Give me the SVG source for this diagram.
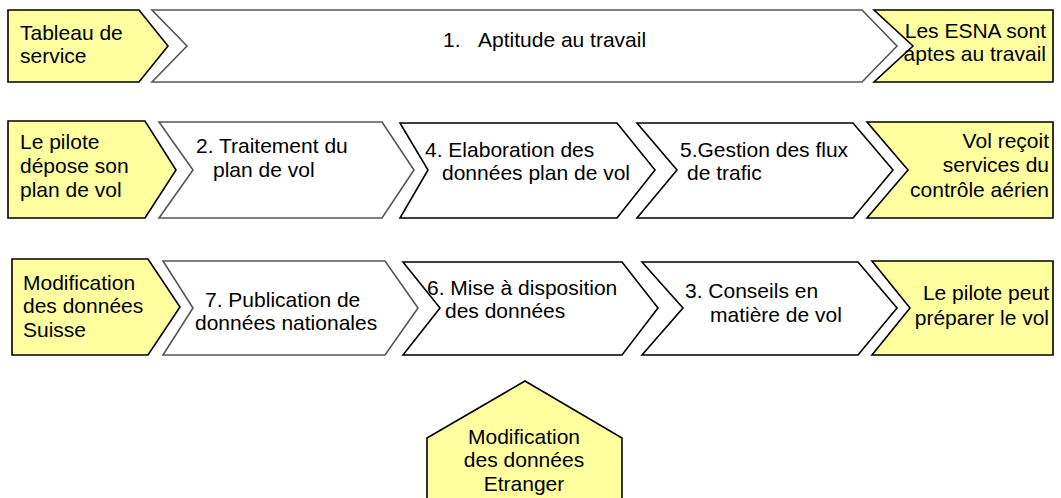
<svg xmlns="http://www.w3.org/2000/svg" width="1061" height="498" viewBox="0 0 1061 498">
<style>
.y{fill:#FFFF9F;stroke:#000;stroke-width:1.6;stroke-linejoin:miter}
.g{fill:#fff;stroke:#555;stroke-width:1.6}
.b{fill:#fff;stroke:#000;stroke-width:1.6}
text{font-family:"Liberation Sans",Arial,sans-serif;font-size:21px;fill:#000}
.r{text-anchor:end}
.m{text-anchor:middle}
</style>
<rect width="1061" height="498" fill="#fff"/>
<g id="connectors"/>
<g id="n-tableau"><path class="y" d="M8,10 L139,10 L168,46 L139,82 L8,82 Z"/><text x="20" y="40">Tableau de</text><text x="20" y="63">service</text></g>
<g id="n-aptitude"><path class="g" d="M152,10 L862,10 L897,46 L862,82 L152,82 L187,46 Z"/><text y="47"><tspan x="443">1.</tspan><tspan x="478">Aptitude au travail</tspan></text></g>
<g id="n-esna"><path class="y" d="M874,10 L1053,10 L1053,82 L874,82 L913,46 Z"/><text class="r" x="1046" y="38">Les ESNA sont</text><text class="r" x="1046" y="61">aptes au travail</text></g>

<g id="n-pilote-depose"><path class="y" d="M8,121 L145,121 L176,170 L145,218 L8,218 Z"/><text x="20" y="149">Le pilote</text><text x="20" y="173">dépose son</text><text x="20" y="197">plan de vol</text></g>
<g id="n-traitement"><path class="g" d="M159,122 L382,122 L414,170 L382,218 L159,218 L193,170 Z"/><text x="196" y="153">2. Traitement du</text><text x="213" y="177">plan de vol</text></g>
<g id="n-elaboration"><path class="b" d="M400,123 L617,123 L655,170 L617,218 L400,218 L428,170 Z"/><text x="425" y="157">4. Elaboration des</text><text x="442" y="180">données plan de vol</text></g>
<g id="n-gestion"><path class="b" d="M637,123 L853,123 L893,170 L853,218 L637,218 L677,170 Z"/><text x="680" y="157">5.Gestion des flux</text><text x="687" y="180">de trafic</text></g>
<g id="n-vol-recoit"><path class="y" d="M867,122 L1053,122 L1053,218 L867,218 L908,170 Z"/><text class="r" x="1049" y="148">Vol reçoit</text><text class="r" x="1049" y="172">services du</text><text class="r" x="1049" y="197">contrôle aérien</text></g>

<g id="n-modif-suisse"><path class="y" d="M12,259 L148,259 L180,307 L148,355 L12,355 Z"/><text x="23" y="290">Modification</text><text x="23" y="313">des données</text><text x="23" y="337">Suisse</text></g>
<g id="n-publication"><path class="g" d="M163,261 L385,261 L418,308 L385,355 L163,355 L193,308 Z"/><text x="205" y="307">7. Publication de</text><text x="195" y="330">données nationales</text></g>
<g id="n-mise"><path class="b" d="M403,262 L622,262 L658,308 L622,355 L403,355 L440,308 Z"/><text x="427" y="295">6. Mise à disposition</text><text x="445" y="318">des données</text></g>
<g id="n-conseils"><path class="b" d="M642,262 L858,262 L897,308 L858,355 L642,355 L683,308 Z"/><text x="685" y="298">3. Conseils en</text><text x="710" y="322">matière de vol</text></g>
<g id="n-pilote-peut"><path class="y" d="M872,261 L1053,261 L1053,355 L872,355 L910,308 Z"/><text class="r" x="1049" y="300">Le pilote peut</text><text class="r" x="1049" y="325">préparer le vol</text></g>

<g id="n-modif-etranger"><path class="y" d="M525,381 L622,438 L622,510 L427,510 L427,438 Z"/><text class="m" x="524" y="444">Modification</text><text class="m" x="524" y="467">des données</text><text class="m" x="524" y="491">Etranger</text></g>
</svg>
